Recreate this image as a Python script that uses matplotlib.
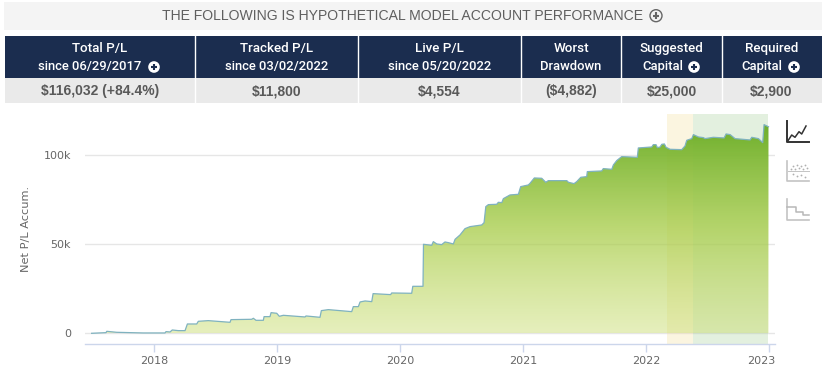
import matplotlib
matplotlib.use("Agg")
import matplotlib.pyplot as plt
from matplotlib.colors import LinearSegmentedColormap
from matplotlib.patches import Circle, Rectangle
from matplotlib.transforms import ScaledTranslation
import numpy as np

# values
years = [2017.49, 2017.607, 2017.613, 2017.694, 2017.91, 2018.087, 2018.095, 2018.128, 2018.146, 2018.195,
         2018.25, 2018.269, 2018.345, 2018.358, 2018.439, 2018.616, 2018.624, 2018.792, 2018.806, 2018.827,
         2018.887, 2018.893, 2018.941, 2018.95, 2018.996, 2019.017, 2019.05, 2019.226, 2019.234, 2019.348,
         2019.359, 2019.416, 2019.606, 2019.619, 2019.66, 2019.674, 2019.715, 2019.769, 2019.78, 2019.923,
         2019.931, 2020.094, 2020.103, 2020.186, 2020.19, 2020.257, 2020.27, 2020.298, 2020.338, 2020.365,
         2020.392, 2020.433, 2020.447, 2020.487, 2020.528, 2020.569, 2020.664, 2020.683, 2020.697, 2020.718,
         2020.786, 2020.799, 2020.827, 2020.84, 2020.894, 2020.962, 2020.981, 2021.043, 2021.057, 2021.092,
         2021.152, 2021.185, 2021.206, 2021.356, 2021.369, 2021.415, 2021.437, 2021.47, 2021.518, 2021.523,
         2021.64, 2021.653, 2021.722, 2021.735, 2021.762, 2021.803, 2021.93, 2021.938, 2022.047, 2022.06,
         2022.082, 2022.093, 2022.115, 2022.129, 2022.15, 2022.164, 2022.196, 2022.291, 2022.318, 2022.332,
         2022.373, 2022.386, 2022.427, 2022.467, 2022.481, 2022.548, 2022.636, 2022.652, 2022.685, 2022.725,
         2022.847, 2022.861, 2022.915, 2022.95, 2022.961, 2022.997]
net_pl = [0, 370, 1120, 560, 190, 190, 940, 750, 1870, 1500,
          1500, 5240, 5240, 6740, 7120, 6180, 7680, 7870, 8430, 7300,
          7300, 9360, 9360, 11610, 11240, 9550, 10110, 9180, 9740, 8990,
          12740, 13300, 12170, 14980, 14980, 17600, 18170, 17790, 22290, 21730,
          22660, 22480, 26400, 26400, 50000, 49440, 51500, 50190, 49810, 51310,
          50940, 50190, 52810, 55240, 58800, 59930, 60860, 62170, 71170, 72290,
          72480, 73600, 73410, 75660, 77720, 78100, 82400, 83340, 84280, 87270,
          87090, 84840, 85770, 85770, 84840, 84090, 85210, 87650, 88020, 90830,
          91210, 92520, 92140, 94580, 97010, 99260, 98890, 104120, 104680, 105990,
          105990, 104310, 104680, 106180, 106370, 104500, 103370, 103180, 105240, 108430,
          109370, 111610, 110300, 109930, 109370, 110110, 109740, 111990, 111610, 109370,
          108620, 110110, 109370, 107120, 117230, 116032]
tracked_start = 2022.17
live_start = 2022.38
x_ticks = [2018, 2019, 2020, 2021, 2022, 2023]
y_ticks = [0, 50000, 100000]
y_labels = ["0", "50k", "100k"]

title = "THE FOLLOWING IS HYPOTHETICAL MODEL ACCOUNT PERFORMANCE"
head_top = ["Total P/L", "Tracked P/L", "Live P/L", "Worst", "Suggested", "Required"]
head_bottom = ["since 06/29/2017", "since 03/02/2022", "since 05/20/2022", "Drawdown", "Capital", "Capital"]
cell_values = ["$116,032 (+84.4%)", "$11,800", "$4,554", "($4,882)", "$25,000", "$2,900"]

NAVY = "#1b2d4f"
GRID = "#e6e6e6"
AXIS = "#ccd6eb"
TEXT = "#666666"

fig = plt.figure(figsize=(8.24, 3.79), dpi=100, facecolor="white")

# page layer in pixels, for the table and the icons
page = fig.add_axes([0, 0, 1, 1])
page.set_xlim(0, 824)
page.set_ylim(379, 0)
page.axis("off")


def plus_icon(x, y, r, back, front, fill=True):
    page.add_patch(Circle((x, y), r, facecolor=back if fill else "none", edgecolor=back if not fill else "none", lw=1))
    page.plot([x - r * 0.55, x + r * 0.55], [y, y], color=front, lw=1.5, solid_capstyle="butt")
    page.plot([x, x], [y - r * 0.55, y + r * 0.55], color=front, lw=1.5, solid_capstyle="butt")


page.add_patch(Rectangle((4, 2), 818, 28, facecolor="#f4f4f4", edgecolor="none"))
page.text(403, 16, title, ha="center", va="center", fontsize=10.1, color="#5f5f5f", family="Liberation Sans")
plus_icon(656, 15.7, 6, "#666666", "#666666", fill=False)

page.add_patch(Rectangle((5, 36), 817, 42, facecolor=NAVY, edgecolor="none"))
page.add_patch(Rectangle((5, 78), 817, 25, facecolor="#eaeaea", edgecolor="none"))
for x in [195.5, 358.5, 521.5, 621.5, 722.5]:
    page.plot([x, x], [36, 103], color="white", lw=1)

centers = [100, 276.5, 439.5, 571, 671.5, 771.5]
bottom_centers = [90, 276.5, 439.5, 571, 662.5, 761.5]
for i in range(6):
    page.text(centers[i], 48.5, head_top[i], ha="center", va="center", fontsize=9.6, color="white",
              family="Roboto", fontweight="medium")
    page.text(bottom_centers[i], 66.5, head_bottom[i], ha="center", va="center", fontsize=9.4, color="white",
              family="Roboto", fontweight="medium")
    page.text(centers[i], 91, cell_values[i], ha="center", va="center", fontsize=10, color="#595959",
              family="Liberation Sans", fontweight="bold")
for x in [154, 694, 794]:
    plus_icon(x, 67, 5.8, "white", NAVY)

# chart icons
page.plot([786.7, 786.7, 809.5], [121, 142, 142], color="#333333", lw=1.4)
page.plot([788, 791.7, 795, 799, 801.7, 806], [140.7, 135, 137.3, 131.7, 134, 126], color="#333333", lw=1.1)
page.plot([786.7, 786.7, 809.5], [160.7, 181, 181], color="#c4c4c4", lw=1.2)
page.plot([788, 809], [171, 171], color="#c4c4c4", lw=0.7)
page.plot([793, 797, 801, 805, 791, 795, 799, 803, 807, 793, 797, 801, 805],
          [166, 165, 166, 165, 169, 169, 168, 169, 168, 174, 176, 175, 177],
          ls="none", marker="o", ms=1.3, mec="none", color="#b0b0b0")
page.plot([786.7, 786.7, 809.5], [199.3, 220, 220], color="#c4c4c4", lw=1.2)
page.plot([786.7, 795.7, 795.7, 803.3, 803.3, 809.5], [206.7, 206.7, 211.7, 211.7, 215.3, 215.3],
          color="#b8b8b8", lw=1.1)

# chart, placed so the ticks land where they do in the picture
ax = fig.add_axes([85 / 824, (379 - 344) / 379, 690 / 824, 230 / 379])
ax.patch.set_alpha(0)
ax.set_xlim(2017.436, 2023.05)
ax.set_ylim(-6011, 123200)
for s in ["top", "left", "right"]:
    ax.spines[s].set_visible(False)
ax.spines["bottom"].set_color(AXIS)
ax.spines["bottom"].set_linewidth(1)
ax.set_yticks(y_ticks)
ax.set_yticklabels(y_labels)
ax.set_xticks(x_ticks)
ax.tick_params(axis="y", length=0, pad=10, labelsize=8, labelcolor=TEXT)
ax.tick_params(axis="x", length=5.5, width=1, color=AXIS, pad=3, labelsize=8, labelcolor=TEXT)
ax.grid(axis="y", color=GRID, lw=1, zorder=0)
ax.set_axisbelow(True)
ax.set_ylabel("Net P/L Accum.", fontsize=8.2, color=TEXT)
ax.yaxis.set_label_coords(-54 / 690, 0.5)

# the 2023 label is pulled inside the chart
last = ax.get_xticklabels()[-1]
last.set_transform(last.get_transform() + ScaledTranslation(-8 / 100, 0, fig.dpi_scale_trans))

# bands sit under the fill, which turns see-through towards the bottom
ax.axvspan(tracked_start, live_start, facecolor="#f5de9b", alpha=0.3, edgecolor="none", zorder=1)
ax.axvspan(live_start, years[-1], facecolor="#9ccb8c", alpha=0.28, edgecolor="none", zorder=1)

green = LinearSegmentedColormap.from_list("pl", [(0, (200 / 255, 220 / 255, 107 / 255, 0.45)),
                                                 (0.5, (165 / 255, 203 / 255, 68 / 255, 0.75)),
                                                 (1, (108 / 255, 174 / 255, 42 / 255, 1.0))])
poly = ax.fill_between(years, net_pl, 0, facecolor="none", edgecolor="none")
im = ax.imshow(np.linspace(0, 1, 256).reshape(-1, 1), cmap=green, origin="lower", aspect="auto",
               extent=[years[0], years[-1], 0, 118000], zorder=2)
im.set_clip_path(poly.get_paths()[0], transform=ax.transData)
ax.set_xlim(2017.436, 2023.05)
ax.set_ylim(-6011, 123200)

ax.plot(years, net_pl, color="#7fb2bf", lw=0.9, zorder=4)

fig.savefig("out.png", dpi=100)
